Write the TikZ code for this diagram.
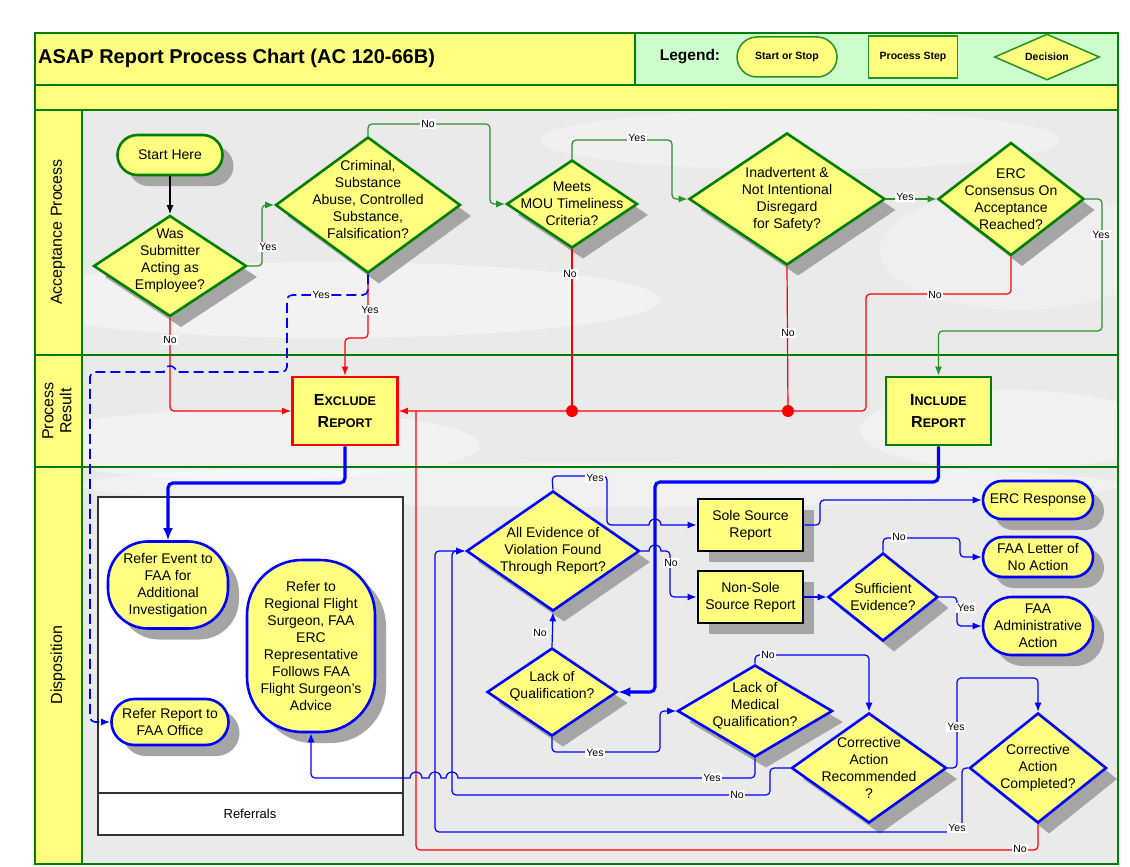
\documentclass[tikz,border=0pt]{standalone}
\usepackage{fontspec}
\setmainfont{Liberation Sans}
\usetikzlibrary{shapes.geometric,shapes.misc,arrows.meta,shadows}
\definecolor{fy}{RGB}{255,255,128}
\definecolor{lgr}{RGB}{204,255,204}
\definecolor{dg}{RGB}{0,128,0}
\definecolor{cg}{RGB}{40,145,40}
\definecolor{rd}{RGB}{255,0,0}
\definecolor{bl}{RGB}{0,0,255}
\definecolor{shd}{RGB}{165,165,165}
\definecolor{lanebg}{RGB}{234,234,234}
\newcommand\scword[2]{{\fontsize{16}{22}\selectfont #1}{\fontsize{12.5}{22}\selectfont #2}}
\tikzset{
  shad/.style={drop shadow={shadow xshift=11pt,shadow yshift=-11pt,opacity=1,fill=shd}},
  stx/.style={font=\fontsize{14}{17}\selectfont, align=center},
  dtx/.style={font=\fontsize{14}{17}\selectfont, align=center, inner sep=0pt},
  decg/.style 2 args={diamond, draw=dg, line width=2.6pt, fill=fy, minimum width=#1pt, minimum height=#2pt, inner sep=0pt, shad},
  decb/.style 2 args={diamond, draw=bl, line width=2.6pt, fill=fy, minimum width=#1pt, minimum height=#2pt, inner sep=0pt, shad},
  termg/.style n args={3}{rectangle, rounded corners=#3pt, draw=dg, line width=2.6pt, fill=fy, minimum width=#1pt, minimum height=#2pt, inner sep=0pt, stx, shad},
  termb/.style n args={3}{rectangle, rounded corners=#3pt, draw=bl, line width=2.6pt, fill=fy, minimum width=#1pt, minimum height=#2pt, inner sep=0pt, stx, shad},
  procbox/.style n args={3}{rectangle, draw=#3, line width=2.8pt, fill=fy, minimum width=#1pt, minimum height=#2pt, inner sep=0pt, stx},
  resbox/.style={font=\bfseries\fontsize{16}{22}\selectfont},
  con/.style={line width=1.2pt, rounded corners=4pt},
  tip/.style={-{Latex[length=9pt,width=7pt]}},
  gcon/.style={con, draw=cg, tip},
  rcon/.style={con, draw=rd, tip},
  rline/.style={con, draw=rd},
  bcon/.style={con, draw=bl, tip},
  kcon/.style={con, draw=black, line width=1.5pt, tip},
  bthick/.style={draw=bl, line width=3.2pt, rounded corners=5pt, -{Latex[length=12pt,width=10pt]}},
  dcon/.style={draw=bl, line width=1.6pt, dash pattern=on 10pt off 5pt, rounded corners=5pt, tip},
  lbl/.style={font=\fontsize{10.5}{12}\selectfont, fill=white, inner sep=1pt},
  lanetxt/.style={rotate=90, align=center, font=\fontsize{16}{18}\selectfont},
  legsh/.style={draw=cg, line width=1.5pt, fill=fy, inner sep=0pt, font=\bfseries\fontsize{10.5}{12}\selectfont},
}
\begin{document}
\begin{tikzpicture}[x=1pt,y=-1pt]
\useasboundingbox (0,0) rectangle (1130,867);
\fill[white] (0,0) rectangle (1130,867);
% lane background with soft clouds
\fill[lanebg] (82,110) rectangle (1118,864);
\begin{scope}
\clip (82,110) rectangle (1118,864);
\fill[white,opacity=0.4] (330,300) ellipse [x radius=330, y radius=38];
\fill[white,opacity=0.3] (800,140) ellipse [x radius=260, y radius=30];
\fill[white,opacity=0.4] (250,445) ellipse [x radius=230, y radius=35];
\fill[white,opacity=0.35] (1010,430) ellipse [x radius=150, y radius=40];
\fill[white,opacity=0.35] (600,485) ellipse [x radius=520, y radius=22];
\fill[white,opacity=0.25] (1020,250) ellipse [x radius=140, y radius=60];
\end{scope}
% header and lane label column
\fill[fy] (35,33) rectangle (635,85);
\fill[lgr] (635,33) rectangle (1118,85);
\fill[fy] (35,85) rectangle (1118,110);
\fill[fy] (35,110) rectangle (82,864);
\draw[dg, line width=1.3pt] (35,85) -- (1118,85) (635,33) -- (635,85) (35,110) -- (1118,110)
  (35,355) -- (1118,355) (35,467) -- (1118,467) (82,110) -- (82,864);
\draw[dg, line width=1.5pt] (35,33) rectangle (1118,864);

% title and legend
\node[anchor=west, inner sep=0pt, font=\bfseries\fontsize{20}{22}\selectfont] (title) at (38,58) {ASAP Report Process Chart (AC 120-66B)};
\node[font=\bfseries\fontsize{15.5}{18}\selectfont] (leg) at (690,57) {Legend:};
\node[legsh, rounded rectangle, minimum width=100pt, minimum height=40pt] (lss) at (787,57) {Start or Stop};
\node[legsh, rectangle, minimum width=89pt, minimum height=42pt] (lps) at (913,57) {Process Step};
\node[legsh, diamond, minimum width=105pt, minimum height=46pt, label={[font=\bfseries\fontsize{10.5}{12}\selectfont]center:Decision}] (ldec) at (1047,57) {};

% lane titles
\node[lanetxt] (lacc) at (58,232) {Acceptance Process};
\node[lanetxt] (lres) at (57,411) {Process\\Result};
\node[lanetxt] (ldis) at (58,665) {Disposition};

% referrals container
\node[draw=black!80, line width=1.2pt, fill=white, minimum width=305pt, minimum height=338pt, inner sep=0pt] (refbox) at (250.5,666) {};
\draw[black!80, line width=1.2pt] (refbox.west |- 0,793) -- (refbox.east |- 0,793);
\node[font=\fontsize{13}{15}\selectfont] (reflbl) at (250,814) {Referrals};

% acceptance process
\node[termg={105}{40}{20}] (start) at (170,155) {Start Here};
\node[decg={153}{101}, label={[dtx,yshift=5pt]center:{Was\\Submitter\\Acting as\\Employee?}}] (was) at (170,266) {};
\node[decg={185}{136}, label={[dtx,yshift=6pt]center:{Criminal,\\Substance\\Abuse, Controlled\\Substance,\\Falsification?}}] (crim) at (368,205) {};
\node[decg={131}{88}, label={[dtx]center:{Meets\\MOU Timeliness\\Criteria?}}] (meets) at (572,204) {};
\node[decg={196}{132}, label={[dtx]center:{Inadvertent \&\\Not Intentional\\Disregard\\for Safety?}}] (inad) at (787,199) {};
\node[decg={146}{113}, label={[dtx]center:{ERC\\Consensus On\\Acceptance\\Reached?}}] (erc) at (1011,199) {};

% process result
\node[procbox={105}{68}{rd}, resbox] (excl) at (345,411) {\scword{E}{XCLUDE}\\\scword{R}{EPORT}};
\node[procbox={105}{68}{dg}, resbox] (incl) at (938.5,411) {\scword{I}{NCLUDE}\\\scword{R}{EPORT}};
\coordinate (d1) at (572,411);
\coordinate (d2) at (788,411);

% disposition
\node[termb={120}{87}{40}] (refev) at (168,585) {Refer Event to\\FAA for\\Additional\\Investigation};
\node[termb={128}{172}{55}] (refrg) at (311,646) {Refer to\\Regional Flight\\Surgeon, FAA\\ERC\\Representative\\Follows FAA\\Flight Surgeon's\\Advice};
\node[termb={117}{46}{23}] (refrp) at (170,722) {Refer Report to\\FAA Office};
\node[decb={173}{120}, label={[dtx]center:{All Evidence of\\Violation Found\\Through Report?}}] (alle) at (553,551) {};
\node[procbox={105}{52}{black}, shad] (sole) at (750.5,525) {Sole Source\\Report};
\node[procbox={105}{52}{black}, shad] (nsole) at (750.5,597) {Non-Sole\\Source Report};
\node[decb={110}{88}, label={[dtx]center:{Sufficient\\Evidence?}}] (suff) at (883,597) {};
\node[termb={110}{38}{19}] (ercr) at (1038,500) {ERC Response};
\node[termb={110}{40}{20}] (faal) at (1038,557) {FAA Letter of\\No Action};
\node[termb={110}{58}{29}] (faaa) at (1038,626) {FAA\\Administrative\\Action};
\node[decb={130}{88}, label={[dtx,yshift=6pt]center:{Lack of\\Qualification?}}] (lq) at (552,692) {};
\node[decb={155}{92}, label={[dtx,yshift=5pt]center:{Lack of\\Medical\\Qualification?}}] (lmq) at (755,711) {};
\node[decb={155}{110}, label={[dtx]center:{Corrective\\Action\\Recommended\\?}}] (car) at (869,768) {};
\node[decb={137}{110}, label={[dtx]center:{Corrective\\Action\\Completed?}}] (cac) at (1038,768) {};

% ---- connectors: acceptance (green / black)
\draw[kcon] (start.south) -- (was.north);
\draw[gcon] (was.east) -- (262,266) -- (262,205) -- (crim.west);
\draw[gcon] (crim.north) -- (368,124) -- (490,124) -- (490,204) -- (meets.west);
\draw[gcon] (meets.north) -- (572,140) -- (672,140) -- (672,199) -- (inad.west);
\draw[gcon] (inad.east) -- (erc.west);
\draw[gcon] (erc.east) -- (1102,199) -- (1102,331) -- (938.5,331) -- (incl.north);

% ---- red connectors to EXCLUDE
\draw[rcon] (was.south) -- (170,411) -- (excl.west);
\draw[rcon] (crim.south) -- (368,338) -- (345,338) -- (excl.north);
\draw[rline] (meets.south) -- (d1);
\draw[rline] (inad.south) -- (d2);
\draw[rcon] (erc.south) -- (1011,294) -- (866,294) -- (866,411) -- (excl.east);
\draw[rline] (cac.south) -- (1038,850) -- (416,850) -- (416,411);
\fill[rd] (d1) circle (6pt);
\fill[rd] (d2) circle (6pt);

% ---- dashed referral
\draw[dcon] (crim.south) -- (368,295) -- (287,295) -- (287,372) -- (190,372) [sharp corners] -- (176,372)
  arc[start angle=0, end angle=180, radius=6pt] -- (150,372) [rounded corners=5pt] -- (90,372) -- (90,722) -- (refrp.west);

% ---- disposition connectors
\draw[bthick] (excl.south) -- (345,483) -- (168,483) -- (refev.north);
\draw[bthick] (incl.south) -- (938.5,482) -- (655,482) -- (655,692) -- (lq.east);
\draw[bcon] (lq.north) -- (alle.south);
\draw[bcon] (alle.north) -- (552,476) -- (607,476) -- (607,525) -- (630,525) [sharp corners] -- (649,525)
  arc[start angle=180, end angle=0, radius=6pt] -- (675,525) [rounded corners=4pt] -- (sole.west);
\draw[bcon, sharp corners] (alle.east) -- (649,551) arc[start angle=180, end angle=0, radius=6pt] -- (664,551)
  [rounded corners=4pt] -- (670,551) -- (670,597) -- (nsole.west);
\draw[bcon] (sole.east) -- (820,525) -- (820,500) -- (ercr.west);
\draw[bcon] (nsole.east) -- (suff.west);
\draw[bcon] (suff.north) -- (883,538) -- (960,538) -- (960,557) -- (faal.west);
\draw[bcon] (suff.east) -- (957,597) -- (957,626) -- (faaa.west);
\draw[bcon] (lq.south) -- (552,752) -- (660,752) -- (660,711) -- (lmq.west);
\draw[bcon] (lmq.north) -- (755,655) -- (869,655) -- (car.north);
\draw[bcon] (lmq.south) -- (755,778) -- (470,778) [sharp corners] -- (458,778)
  arc[start angle=0, end angle=180, radius=6pt] -- (441,778)
  arc[start angle=0, end angle=180, radius=6pt] -- (422,778)
  arc[start angle=0, end angle=180, radius=6pt] -- (395,778) [rounded corners=4pt] -- (311,778) -- (refrg.south);
\draw[bcon] (car.west) -- (770,768) -- (770,795) -- (452,795) -- (452,551) -- (alle.west);
\draw[bcon] (car.east) -- (957,768) -- (957,678) -- (1038,678) -- (cac.north);
\draw[bcon] (cac.west) -- (962,768) -- (962,832) -- (435,832) -- (435,551) -- (alle.west);

% ---- connector labels
\node[lbl] (ly1) at (268,247) {Yes};
\node[lbl] (ln1) at (428,124) {No};
\node[lbl] (ly2) at (637,138) {Yes};
\node[lbl] (ly3) at (905,197) {Yes};
\node[lbl] (ly4) at (1101,235) {Yes};
\node[lbl] (ln2) at (170,340) {No};
\node[lbl] (ly5) at (370,310) {Yes};
\node[lbl] (ly6) at (321,295) {Yes};
\node[lbl] (ln3) at (570,274) {No};
\node[lbl] (ln4) at (788,333) {No};
\node[lbl] (ln5) at (935,295) {No};
\node[lbl] (ln6) at (1020,849) {No};
\node[lbl] (ln7) at (540,633) {No};
\node[lbl] (ly7) at (595,478) {Yes};
\node[lbl] (ln8) at (671,563) {No};
\node[lbl] (ln9) at (899,537) {No};
\node[lbl] (ly8) at (966,608) {Yes};
\node[lbl] (ly9) at (595,753) {Yes};
\node[lbl] (ln10) at (768,655) {No};
\node[lbl] (ly10) at (712,778) {Yes};
\node[lbl] (ln11) at (737,795) {No};
\node[lbl] (ly11) at (956,727) {Yes};
\node[lbl] (ly12) at (957,828) {Yes};
\end{tikzpicture}
\end{document}
